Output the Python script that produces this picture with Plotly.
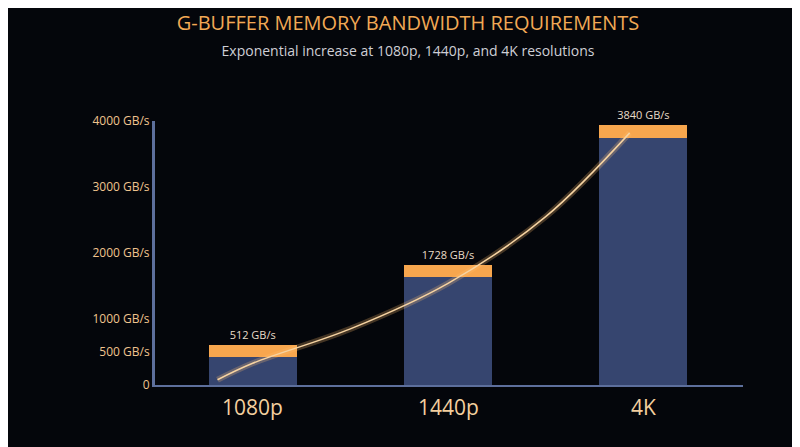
import plotly.graph_objects as go

categories = ["1080p", "1440p", "4K"]
bandwidth = [512, 1728, 3840]
value_labels = ["512 GB/s", "1728 GB/s", "3840 GB/s"]
tick_vals = [0, 500, 1000, 2000, 3000, 4000]
tick_text = ["0", "500 GB/s", "1000 GB/s", "2000 GB/s", "3000 GB/s", "4000 GB/s"]
# trend curve (category position, value)
curve_x = [-0.18, 0.0, 0.5, 1.0, 1.5, 1.93]
curve_y = [80, 330, 850, 1540, 2550, 3820]

cap_low = 95
cap_high = 95
x = [0, 1, 2]

fig = go.Figure()
fig.add_trace(go.Bar(
    x=x, y=[v - cap_low for v in bandwidth], width=0.45,
    marker=dict(color="#36456f", line=dict(width=0)),
))
fig.add_trace(go.Bar(
    x=x, y=[cap_low + cap_high] * 3, width=0.45,
    marker=dict(color="#f7a64e", line=dict(width=0)),
    text=value_labels, textposition="outside",
    textfont=dict(color="#e8dcc8", size=11), cliponaxis=False,
))
# glow + line
fig.add_trace(go.Scatter(x=curve_x, y=curve_y, mode="lines", line=dict(shape="spline", color="rgba(255,190,110,0.25)", width=6)))
fig.add_trace(go.Scatter(x=curve_x, y=curve_y, mode="lines", line=dict(shape="spline", color="#f6d3a2", width=1.5)))

for i, c in enumerate(categories):
    fig.add_annotation(x=i, y=0, yshift=-22, text=c, showarrow=False,
                       font=dict(color="#f3cf9f", size=21))

fig.update_layout(
    width=800, height=447, barmode="stack", showlegend=False,
    margin=dict(l=147, r=65, t=113, b=70, autoexpand=False),
    paper_bgcolor="#04060b", plot_bgcolor="#04060b",
    font=dict(family="Open Sans"),
    title=dict(text="G-BUFFER MEMORY BANDWIDTH REQUIREMENTS<br><span style='font-size:14px;color:#cfcfd6'>Exponential increase at 1080p, 1440p, and 4K resolutions</span>",
               x=0.5, xanchor="center", y=0.95, yanchor="top",
               font=dict(color="#f2a955", size=20)),
    xaxis=dict(range=[-0.5, 2.51], showticklabels=False, showgrid=False, zeroline=False,
               showline=True, linecolor="#5d6f9c", linewidth=2, automargin=False),
    yaxis=dict(range=[0, 4000], tickvals=tick_vals, ticktext=tick_text, showgrid=False,
               zeroline=False, showline=True, linecolor="#5d6f9c", linewidth=3,
               tickfont=dict(color="#f0c48e", size=12), ticks="", automargin=False),
)
fig.write_html("out.html")
